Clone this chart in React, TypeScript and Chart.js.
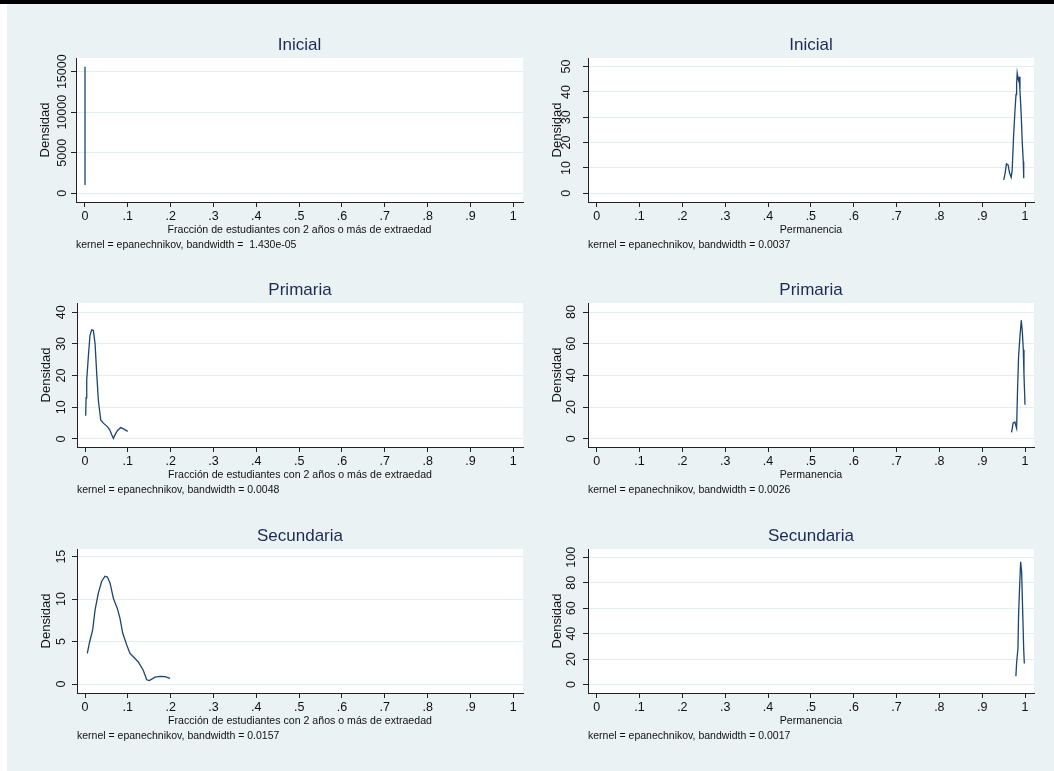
import React, { useEffect, useRef } from 'react';
import { Chart, registerables } from 'chart.js';

Chart.register(...registerables);

// ---------- data ----------
const xTickValues = [0, 0.1, 0.2, 0.3, 0.4, 0.5, 0.6, 0.7, 0.8, 0.9, 1];
const xTickLabels = ['0', '.1', '.2', '.3', '.4', '.5', '.6', '.7', '.8', '.9', '1'];

const panelTitles = ['Inicial', 'Inicial', 'Primaria', 'Primaria', 'Secundaria', 'Secundaria'];
const fracTitle = 'Fracción de estudiantes con 2 años o más de extraedad';
const permTitle = 'Permanencia';
const yTitle = 'Densidad';
const notes = [
  'kernel = epanechnikov, bandwidth =  1.430e-05',
  'kernel = epanechnikov, bandwidth = 0.0037',
  'kernel = epanechnikov, bandwidth = 0.0048',
  'kernel = epanechnikov, bandwidth = 0.0026',
  'kernel = epanechnikov, bandwidth = 0.0157',
  'kernel = epanechnikov, bandwidth = 0.0017',
];

// Inicial – fracción extraedad
const inicialFracX = [0, 0.00001, 0.00002, 0.00003, 0.00004, 0.00005];
const inicialFracY = [15600, 15400, 12800, 8200, 3800, 1030];
const inicialFracTicks = [0, 5000, 10000, 15000];

// Inicial – permanencia
const inicialPermX = [0.9504, 0.9535, 0.9567, 0.9606, 0.964, 0.9677, 0.97, 0.9733, 0.9764, 0.979, 0.9804, 0.9818, 0.984, 0.985, 0.986, 0.9882, 0.9913, 0.9937, 0.996, 0.997];
const inicialPermY = [5.3, 8.0, 11.6, 11.2, 8.0, 6.3, 9.0, 22.4, 32.2, 39.0, 43.4, 47.4, 45.0, 44.5, 46.0, 40.8, 30.3, 19.7, 12.5, 5.9];
const inicialPermTicks = [0, 10, 20, 30, 40, 50];

// Primaria – fracción extraedad
const primariaFracX = [0.0016, 0.0025, 0.004, 0.0078, 0.0117, 0.0156, 0.0195, 0.0234, 0.0273, 0.0311, 0.0367, 0.0428, 0.0522, 0.058, 0.0624, 0.0662, 0.07, 0.0755, 0.0834, 0.0911, 0.0997];
const primariaFracY = [7.3, 13.0, 18.6, 26.0, 32.8, 34.4, 34.2, 30.2, 20.7, 12.3, 6.0, 5.0, 3.9, 2.8, 1.3, 0.2, 1.3, 2.6, 3.6, 3.1, 2.4];
const primariaFracTicks = [0, 10, 20, 30, 40];

// Primaria – permanencia
const primariaPermX = [0.9686, 0.9723, 0.9764, 0.9804, 0.9827, 0.985, 0.9882, 0.9913, 0.9937, 0.996, 0.9976, 1.0];
const primariaPermY = [4.0, 9.9, 10.5, 6.7, 32.0, 52.0, 64.6, 74.7, 67.8, 56.2, 40.4, 21.5];
const primariaPermTicks = [0, 20, 40, 60, 80];

// Secundaria – fracción extraedad
const secundariaFracX = [0.0054, 0.0101, 0.018, 0.0234, 0.0311, 0.039, 0.0467, 0.0522, 0.0584, 0.0662, 0.0755, 0.0818, 0.088, 0.0974, 0.1051, 0.1129, 0.1245, 0.1362, 0.1441, 0.1502, 0.1636, 0.1752, 0.1869, 0.1986];
const secundariaFracY = [3.6, 4.8, 6.4, 8.7, 10.7, 12.1, 12.7, 12.6, 11.9, 10.1, 8.9, 7.7, 6.0, 4.6, 3.6, 3.2, 2.6, 1.6, 0.5, 0.4, 0.8, 0.9, 0.86, 0.67];
const secundariaFracTicks = [0, 5, 10, 15];

// Secundaria – permanencia
const secundariaPermX = [0.9787, 0.9804, 0.9835, 0.985, 0.9874, 0.9898, 0.9921, 0.9945, 0.9969, 0.9984];
const secundariaPermY = [6.5, 17.0, 28.3, 54.6, 76.9, 96.5, 88.7, 58.5, 28.3, 16.5];
const secundariaPermTicks = [0, 20, 40, 60, 80, 100];

// ---------- layout / style ----------
const FONT = '"Liberation Sans", Arial, sans-serif';
const BG = '#eaf2f3';
const LINE = '#1a476f';
const TEXT = '#111111';
const TITLE_COLOR = '#1c2a56';
const AXIS = '#222222';
const GRID = '#e4edef';

const CANVAS_H = 240;
const TICK_SIZE = 12.5;

type Panel = {
  title: string; xTitle: string; note: string;
  xs: number[]; ys: number[]; yTicks: number[];
  xMin: number; xMax: number; yMin: number; yMax: number;
  cLeft: number; cTop: number; cWidth: number;
  plotLeft: number; plotRight: number; yLabelGap: number;
};

const panels: Panel[] = [
  { title: panelTitles[0], xTitle: fracTitle, note: notes[0], xs: inicialFracX, ys: inicialFracY, yTicks: inicialFracTicks,
    xMin: -0.021, xMax: 1.0227, yMin: -1073, yMax: 16690, cLeft: 8, cTop: 20, cWidth: 519, plotLeft: 76, plotRight: 523, yLabelGap: 13 },
  { title: panelTitles[1], xTitle: permTitle, note: notes[1], xs: inicialPermX, ys: inicialPermY, yTicks: inicialPermTicks,
    xMin: -0.0203, xMax: 1.021, yMin: -3.44, yMax: 53.4, cLeft: 527, cTop: 20, cWidth: 527, plotLeft: 588, plotRight: 1034, yLabelGap: 21 },
  { title: panelTitles[2], xTitle: fracTitle, note: notes[2], xs: primariaFracX, ys: primariaFracY, yTicks: primariaFracTicks,
    xMin: -0.0187, xMax: 1.0227, yMin: -2.53, yMax: 42.9, cLeft: 8, cTop: 265, cWidth: 519, plotLeft: 77, plotRight: 523, yLabelGap: 15 },
  { title: panelTitles[3], xTitle: permTitle, note: notes[3], xs: primariaPermX, ys: primariaPermY, yTicks: primariaPermTicks,
    xMin: -0.0203, xMax: 1.021, yMin: -5.24, yMax: 85.7, cLeft: 527, cTop: 265, cWidth: 527, plotLeft: 588, plotRight: 1034, yLabelGap: 16 },
  { title: panelTitles[4], xTitle: fracTitle, note: notes[4], xs: secundariaFracX, ys: secundariaFracY, yTicks: secundariaFracTicks,
    xMin: -0.0187, xMax: 1.0227, yMin: -1.06, yMax: 15.9, cLeft: 8, cTop: 511, cWidth: 519, plotLeft: 77, plotRight: 523, yLabelGap: 15 },
  { title: panelTitles[5], xTitle: permTitle, note: notes[5], xs: secundariaPermX, ys: secundariaPermY, yTicks: secundariaPermTicks,
    xMin: -0.0203, xMax: 1.021, yMin: -6.6, yMax: 106.5, cLeft: 527, cTop: 511, cWidth: 527, plotLeft: 588, plotRight: 1034, yLabelGap: 16 },
];

const plotBgPlugin = {
  id: 'plotBg',
  beforeDraw(chart: any) {
    const { ctx, chartArea } = chart;
    ctx.save();
    ctx.fillStyle = '#ffffff';
    ctx.fillRect(chartArea.left, chartArea.top, chartArea.right - chartArea.left, chartArea.bottom - chartArea.top);
    ctx.restore();
  },
};

const yTickLabelPlugin = {
  id: 'yTickLabels',
  afterDraw(chart: any, _args: any, opts: any) {
    const scale = chart.scales.y;
    const ctx = chart.ctx;
    ctx.save();
    ctx.font = `${opts.size}px ${FONT}`;
    ctx.fillStyle = TEXT;
    ctx.textAlign = 'center';
    ctx.textBaseline = 'middle';
    scale.ticks.forEach((t: any) => {
      const y = scale.getPixelForValue(t.value);
      ctx.save();
      ctx.translate(chart.chartArea.left - opts.gap, y);
      ctx.rotate(-Math.PI / 2);
      ctx.fillText(String(t.value), 0, 0);
      ctx.restore();
    });
    ctx.restore();
  },
};

function PanelChart({ p }: { p: Panel }) {
  const ref = useRef<HTMLCanvasElement | null>(null);
  useEffect(() => {
    if (!ref.current) return;
    const yAxisW = p.plotLeft - p.cLeft;
    const padRight = p.cLeft + p.cWidth - p.plotRight;
    const xAxisH = 36;
    const subFont = 10.5;
    const subPadTop = 1.75;
    const padBottom = CANVAS_H - 38 - 144 - xAxisH - (subFont + subPadTop);
    const chart = new Chart(ref.current, {
      type: 'line',
      data: {
        datasets: [
          {
            data: p.xs.map((x, i) => ({ x, y: p.ys[i] })),
            borderColor: LINE,
            borderWidth: 1.3,
            pointRadius: 0,
            fill: false,
            tension: 0,
          },
        ],
      },
      options: {
        animation: false,
        responsive: false,
        devicePixelRatio: 1,
        layout: { padding: { left: 0, top: 0, right: padRight, bottom: padBottom } },
        plugins: {
          legend: { display: false },
          tooltip: { enabled: false },
          title: {
            display: true,
            text: p.title,
            fullSize: false,
            align: 'center',
            color: TITLE_COLOR,
            font: { family: FONT, size: 17, weight: 'normal', lineHeight: 1 },
            padding: { top: 16.5, bottom: 4.5 },
          },
          subtitle: {
            display: true,
            text: p.note,
            position: 'bottom',
            align: 'start',
            fullSize: false,
            color: TEXT,
            font: { family: FONT, size: subFont, weight: 'normal', lineHeight: 1 },
            padding: { top: subPadTop, bottom: 0 },
          },
          yTickLabels: { gap: p.yLabelGap, size: TICK_SIZE },
        } as any,
        scales: {
          x: {
            type: 'linear',
            min: p.xMin,
            max: p.xMax,
            afterBuildTicks: (s: any) => { s.ticks = xTickValues.map((v) => ({ value: v })); },
            afterFit: (s: any) => { s.height = xAxisH; },
            ticks: {
              autoSkip: false,
              maxRotation: 0,
              minRotation: 0,
              padding: 3.4,
              color: TEXT,
              font: { family: FONT, size: TICK_SIZE, lineHeight: 1 },
              callback: (_v: any, i: number) => xTickLabels[i],
            },
            grid: { drawOnChartArea: false, drawTicks: true, tickLength: 5, tickColor: AXIS },
            border: { display: true, color: AXIS, width: 1 },
            title: {
              display: true,
              text: p.xTitle,
              color: TEXT,
              font: { family: FONT, size: 10.6, lineHeight: 1 },
              padding: { top: 0, bottom: 2.7 },
            },
          },
          y: {
            type: 'linear',
            min: p.yMin,
            max: p.yMax,
            afterBuildTicks: (s: any) => { s.ticks = p.yTicks.map((v) => ({ value: v })); },
            afterFit: (s: any) => { s.width = yAxisW; },
            ticks: { display: false },
            grid: { drawOnChartArea: true, color: GRID, lineWidth: 1, drawTicks: true, tickLength: 5, tickColor: AXIS },
            border: { display: true, color: AXIS, width: 1 },
            title: {
              display: true,
              text: yTitle,
              color: TEXT,
              font: { family: FONT, size: 13, lineHeight: 1 },
              padding: { top: yAxisW - 37.5, bottom: 0 },
            },
          },
        },
      } as any,
      plugins: [plotBgPlugin, yTickLabelPlugin],
    });
    return () => chart.destroy();
  }, [p]);
  return (
    <canvas
      ref={ref}
      width={p.cWidth}
      height={CANVAS_H}
      style={{ position: 'absolute', left: p.cLeft, top: p.cTop, width: p.cWidth, height: CANVAS_H }}
    />
  );
}

export default function App() {
  return (
    <div style={{ position: 'absolute', left: 0, top: 0, width: 1054, height: 771, background: '#ffffff', overflow: 'hidden' }}>
      <div style={{ position: 'absolute', left: 0, top: 0, width: 1054, height: 4, background: '#000000' }} />
      <div style={{ position: 'absolute', left: 7, top: 4, width: 1047, height: 767, background: BG }} />
      {panels.map((p, i) => (
        <PanelChart key={i} p={p} />
      ))}
    </div>
  );
}
